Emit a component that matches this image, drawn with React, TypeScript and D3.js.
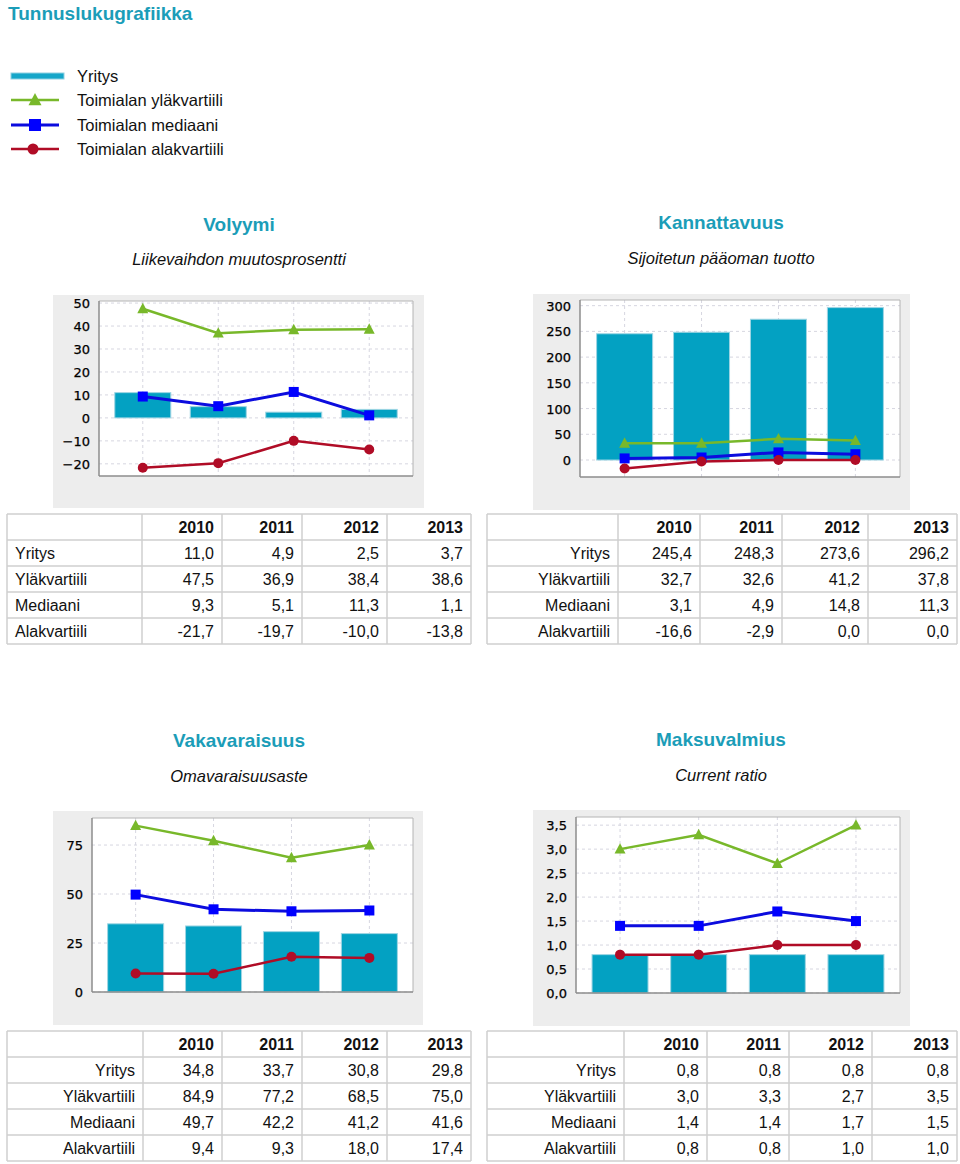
import React from "react";
import * as d3 from "d3";

// ---------- DATA ----------
const years = ["2010", "2011", "2012", "2013"];
const rowLabels = ["Yritys", "Yläkvartiili", "Mediaani", "Alakvartiili"];
const legendLabels = ["Yritys", "Toimialan yläkvartiili", "Toimialan mediaani", "Toimialan alakvartiili"];

const volyymiYritys = [11.0, 4.9, 2.5, 3.7];
const volyymiYla = [47.5, 36.9, 38.4, 38.6];
const volyymiMed = [9.3, 5.1, 11.3, 1.1];
const volyymiAla = [-21.7, -19.7, -10.0, -13.8];

const kannYritys = [245.4, 248.3, 273.6, 296.2];
const kannYla = [32.7, 32.6, 41.2, 37.8];
const kannMed = [3.1, 4.9, 14.8, 11.3];
const kannAla = [-16.6, -2.9, 0.0, 0.0];

const vakaYritys = [34.8, 33.7, 30.8, 29.8];
const vakaYla = [84.9, 77.2, 68.5, 75.0];
const vakaMed = [49.7, 42.2, 41.2, 41.6];
const vakaAla = [9.4, 9.3, 18.0, 17.4];

const maksuYritys = [0.8, 0.8, 0.8, 0.8];
const maksuYla = [3.0, 3.3, 2.7, 3.5];
const maksuMed = [1.4, 1.4, 1.7, 1.5];
const maksuAla = [0.8, 0.8, 1.0, 1.0];

const volyymiTicks = [-20, -10, 0, 10, 20, 30, 40, 50];
const kannTicks = [0, 50, 100, 150, 200, 250, 300];
const vakaTicks = [0, 25, 50, 75];
const maksuTicks = [0, 0.5, 1.0, 1.5, 2.0, 2.5, 3.0, 3.5];

// ---------- STYLE ----------
const TEAL = "#1b9db8";
const BAR = "#03a1c2";
const BAR_STROKE = "#9ed5e3";
const GREEN = "#78b82a";
const BLUE = "#0c0cde";
const RED = "#b00c26";
const FONT = "'Liberation Sans', Arial, sans-serif";
const TICKFONT = "'DejaVu Sans', sans-serif";

const commaLocale = d3.formatLocale({ decimal: ",", thousands: "\u00a0", grouping: [3], currency: ["", ""], minus: "\u2212" });
const tableLocale = d3.formatLocale({ decimal: ",", thousands: "\u00a0", grouping: [3], currency: ["", ""], minus: "-" });
const fmtTable = tableLocale.format(".1f");
const fmtInt = d3.format("d");
const fmtComma1 = commaLocale.format(".1f");

type ChartCfg = {
  panel: [number, number, number, number];
  plot: [number, number, number, number]; // left, top, right, bottom
  domain: [number, number];
  ticks: number[];
  fmt: (v: number) => string;
  padding: number;
  bars: number[];
  yla: number[];
  med: number[];
  ala: number[];
};

const charts: ChartCfg[] = [
  { panel: [53, 295, 424, 508], plot: [99, 301, 413, 476], domain: [-25.3, 50.9], ticks: volyymiTicks, fmt: fmtInt, padding: 0.58, bars: volyymiYritys, yla: volyymiYla, med: volyymiMed, ala: volyymiAla },
  { panel: [533, 294, 910, 510], plot: [580, 300, 900, 477], domain: [-33, 311], ticks: kannTicks, fmt: fmtInt, padding: 0.58, bars: kannYritys, yla: kannYla, med: kannMed, ala: kannAla },
  { panel: [53, 811, 423, 1025], plot: [92, 818, 413, 992], domain: [0, 88.8], ticks: vakaTicks, fmt: fmtInt, padding: 0.56, bars: vakaYritys, yla: vakaYla, med: vakaMed, ala: vakaAla },
  { panel: [533, 810, 910, 1026], plot: [576, 817, 900, 993], domain: [0, 3.67], ticks: maksuTicks, fmt: fmtComma1, padding: 0.56, bars: maksuYritys, yla: maksuYla, med: maksuMed, ala: maksuAla },
];

const headers = [
  { title: "Volyymi", sub: "Liikevaihdon muutosprosentti", cx: 239, ty: 231, sy: 265 },
  { title: "Kannattavuus", sub: "Sijoitetun pääoman tuotto", cx: 721, ty: 229, sy: 264 },
  { title: "Vakavaraisuus", sub: "Omavaraisuusaste", cx: 239, ty: 747, sy: 782 },
  { title: "Maksuvalmius", sub: "Current ratio", cx: 721, ty: 746, sy: 781 },
];

type TableCfg = { cols: number[]; top: number; rowH: number; labelAlign: "left" | "right"; series: number[][] };
const tables: TableCfg[] = [
  { cols: [7, 142, 222, 302, 387, 471], top: 514, rowH: 26, labelAlign: "left", series: [volyymiYritys, volyymiYla, volyymiMed, volyymiAla] },
  { cols: [487, 618, 700, 782, 868, 957], top: 514, rowH: 26, labelAlign: "right", series: [kannYritys, kannYla, kannMed, kannAla] },
  { cols: [7, 143, 222, 302, 387, 471], top: 1031, rowH: 26, labelAlign: "right", series: [vakaYritys, vakaYla, vakaMed, vakaAla] },
  { cols: [487, 624, 707, 789, 872, 957], top: 1031, rowH: 26, labelAlign: "right", series: [maksuYritys, maksuYla, maksuMed, maksuAla] },
];

function Triangle({ x, y, s }: { x: number; y: number; s: number }) {
  const h = s * 0.9;
  return <path d={`M${x},${y - h * 0.6}L${x + s / 2},${y + h * 0.45}L${x - s / 2},${y + h * 0.45}Z`} fill={GREEN} />;
}

function Chart({ c }: { c: ChartCfg }) {
  const [l, t, r, b] = c.plot;
  const x = d3.scalePoint<string>().domain(years).range([l, r]).padding(c.padding);
  const y = d3.scaleLinear().domain(c.domain).range([b, t]);
  const line = d3.line<number>().x((_, i) => x(years[i])!).y((v) => y(v));
  const barW = 56;
  const zero = y(Math.max(0, c.domain[0]));
  return (
    <g>
      <rect x={c.panel[0]} y={c.panel[1]} width={c.panel[2] - c.panel[0]} height={c.panel[3] - c.panel[1]} fill="#ededed" />
      <rect x={l} y={t} width={r - l} height={b - t} fill="#fff" />
      {c.ticks.map((v) => (
        <line key={"h" + v} x1={l} x2={r} y1={y(v)} y2={y(v)} stroke="#d6d6e0" strokeDasharray="3,3" />
      ))}
      {years.map((yr) => (
        <line key={"v" + yr} x1={x(yr)} x2={x(yr)} y1={t} y2={b} stroke="#d6d6e0" strokeDasharray="3,3" />
      ))}
      {c.bars.map((v, i) => (
        <rect key={"b" + i} x={x(years[i])! - barW / 2} y={Math.min(y(v), zero)} width={barW} height={Math.abs(zero - y(v))} fill={BAR} stroke={BAR_STROKE} strokeWidth={1} />
      ))}
      <line x1={r} x2={r} y1={t} y2={b} stroke="#b4b4b4" />
      <line x1={l} x2={r} y1={t} y2={t} stroke="#b4b4b4" />
      <line x1={l} x2={l} y1={t} y2={b} stroke="#8c8c8c" strokeWidth={1.5} />
      <line x1={l} x2={r} y1={b} y2={b} stroke="#8c8c8c" strokeWidth={1.5} />
      {c.ticks.map((v) => (
        <text key={"t" + v} x={l - 9} y={y(v) + 5} textAnchor="end" fontFamily={TICKFONT} fontSize={13} fill="#000" stroke="#000" strokeWidth={0.25}>
          {c.fmt(v)}
        </text>
      ))}
      <path d={line(c.yla)!} fill="none" stroke={GREEN} strokeWidth={2.5} />
      <path d={line(c.med)!} fill="none" stroke={BLUE} strokeWidth={3} />
      <path d={line(c.ala)!} fill="none" stroke={RED} strokeWidth={2.5} />
      {c.yla.map((v, i) => (
        <Triangle key={"g" + i} x={x(years[i])!} y={y(v)} s={11} />
      ))}
      {c.med.map((v, i) => (
        <rect key={"m" + i} x={x(years[i])! - 5} y={y(v) - 5} width={10} height={10} fill="#0000ff" />
      ))}
      {c.ala.map((v, i) => (
        <circle key={"a" + i} cx={x(years[i])!} cy={y(v)} r={5} fill={RED} />
      ))}
    </g>
  );
}

function Table({ tc }: { tc: TableCfg }) {
  const { cols, top, rowH } = tc;
  const nRows = rowLabels.length + 1;
  const bottom = top + nRows * rowH;
  const rows = d3.range(nRows + 1).map((i) => top + i * rowH);
  return (
    <g fontFamily={FONT} fontSize={16} fill="#111">
      {rows.map((ry, i) => (
        <line key={"r" + i} x1={cols[0]} x2={cols[cols.length - 1]} y1={ry} y2={ry} stroke="#cfcfcf" strokeWidth={1.5} />
      ))}
      {cols.map((cx, i) => (
        <line key={"c" + i} x1={cx} x2={cx} y1={top} y2={bottom} stroke="#cfcfcf" strokeWidth={1.5} />
      ))}
      {years.map((yr, j) => (
        <text key={"h" + yr} x={cols[j + 2] - 8} y={top + rowH / 2 + 6} textAnchor="end" fontWeight="bold">
          {yr}
        </text>
      ))}
      {rowLabels.map((lab, i) => (
        <g key={lab}>
          <text
            x={tc.labelAlign === "left" ? cols[0] + 8 : cols[1] - 8}
            y={top + (i + 1) * rowH + rowH / 2 + 6}
            textAnchor={tc.labelAlign === "left" ? "start" : "end"}
          >
            {lab}
          </text>
          {tc.series[i].map((v, j) => (
            <text key={j} x={cols[j + 2] - 8} y={top + (i + 1) * rowH + rowH / 2 + 6} textAnchor="end">
              {fmtTable(v)}
            </text>
          ))}
        </g>
      ))}
    </g>
  );
}

function Legend() {
  const ys = [76, 100, 125, 149];
  return (
    <g fontFamily={FONT} fontSize={16.5} fill="#111">
      <rect x={11} y={ys[0] - 3} width={53} height={6} fill="#15a6c9" stroke="#8fd0e2" strokeWidth={1} />
      <line x1={11} x2={59} y1={ys[1]} y2={ys[1]} stroke={GREEN} strokeWidth={2.5} />
      <Triangle x={35} y={ys[1]} s={13} />
      <line x1={11} x2={59} y1={ys[2]} y2={ys[2]} stroke={BLUE} strokeWidth={3} />
      <rect x={29} y={ys[2] - 6} width={12} height={12} fill="#0000ff" />
      <line x1={11} x2={59} y1={ys[3]} y2={ys[3]} stroke={RED} strokeWidth={2.5} />
      <circle cx={33} cy={ys[3]} r={5.5} fill={RED} />
      {legendLabels.map((lab, i) => (
        <text key={lab} x={77} y={ys[i] + 6}>
          {lab}
        </text>
      ))}
    </g>
  );
}

export default function App() {
  return (
    <svg width={960} height={1164} style={{ position: "absolute", left: 0, top: 0, display: "block", background: "#fff" }}>
      <text x={8} y={20} fontFamily={FONT} fontSize={19} fontWeight="bold" fill={TEAL}>
        Tunnuslukugrafiikka
      </text>
      <Legend />
      {headers.map((h) => (
        <g key={h.title} fontFamily={FONT} textAnchor="middle">
          <text x={h.cx} y={h.ty} fontSize={19} fontWeight="bold" fill={TEAL}>
            {h.title}
          </text>
          <text x={h.cx} y={h.sy} fontSize={16.5} fontStyle="italic" fill="#111">
            {h.sub}
          </text>
        </g>
      ))}
      {charts.map((c, i) => (
        <Chart key={i} c={c} />
      ))}
      {tables.map((tc, i) => (
        <Table key={i} tc={tc} />
      ))}
    </svg>
  );
}
